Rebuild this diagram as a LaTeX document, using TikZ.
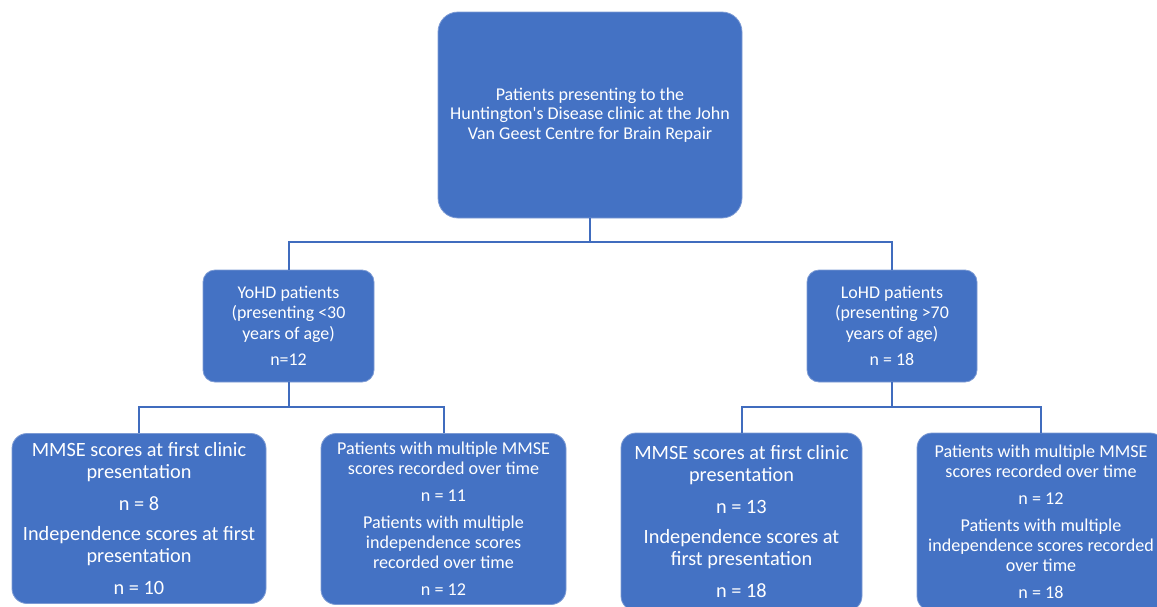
\documentclass[tikz,border=0pt]{standalone}
\usepackage{fontspec}
\setmainfont{Carlito}[Ligatures=TeXOff]
\definecolor{boxblue}{RGB}{68,114,196}
\definecolor{edgeblue}{RGB}{125,155,212}
\definecolor{lineblue}{RGB}{64,108,190}
\tikzset{
  box/.style={rectangle, rounded corners=#1, fill=boxblue, draw=edgeblue, line width=0.8pt,
    text=white, align=center, inner sep=1pt},
  conn/.style={draw=lineblue, line width=2pt}
}
\begin{document}
\begin{tikzpicture}[x=1pt,y=-1pt]
\useasboundingbox (0,0) rectangle (1157,606);
\node[box=20pt, minimum width=304pt, minimum height=206pt,
  font=\fontsize{18}{19.5}\selectfont] (top) at (590,115)
  {Patients presenting to the\\Huntington's Disease clinic at the John\\Van Geest Centre for Brain Repair};
\node[box=12pt, minimum width=171pt, minimum height=112pt,
  font=\fontsize{17.9}{20.5}\selectfont] (yo) at (288.5,326)
  {YoHD patients\\(presenting <30\\years of age)\\[6pt]n=12};
\node[box=12pt, minimum width=170pt, minimum height=112pt,
  font=\fontsize{17.9}{20.5}\selectfont] (lo) at (892,326)
  {LoHD patients\\(presenting >70\\years of age)\\[6pt]n = 18};
\node[box=15pt, minimum width=254pt, minimum height=170pt,
  font=\fontsize{20.3}{22}\selectfont] (b1) at (139,518.5)
  {MMSE scores at first clinic\\presentation\\[10pt]n = 8\\[8pt]Independence scores at first\\presentation\\[10pt]n = 10};
\node[box=15pt, minimum width=245pt, minimum height=171pt,
  font=\fontsize{18.1}{20}\selectfont] (b2) at (443.5,519)
  {Patients with multiple MMSE\\scores recorded over time\\[7pt]n = 11\\[7pt]Patients with multiple\\independence scores\\recorded over time\\[7pt]n = 12};
\node[box=15pt, minimum width=241pt, minimum height=178pt,
  font=\fontsize{20.3}{22}\selectfont] (b3) at (741.5,522)
  {MMSE scores at first clinic\\presentation\\[10pt]n = 13\\[8pt]Independence scores at\\first presentation\\[10pt]n = 18};
\node[box=15pt, minimum width=248pt, minimum height=178pt,
  font=\fontsize{18.1}{20}\selectfont] (b4) at (1041,522)
  {Patients with multiple MMSE\\scores recorded over time\\[7pt]n = 12\\[7pt]Patients with multiple\\independence scores recorded\\over time\\[7pt]n = 18};
\draw[conn] (top.south) -- ++(0,24) -| (yo.north);
\draw[conn] (top.south) -- ++(0,24) -| (lo.north);
\draw[conn] (yo.south) -- ++(0,25) -| (b1.north);
\draw[conn] (yo.south) -- ++(0,25) -| (b2.north);
\draw[conn] (lo.south) -- ++(0,25) -| (b3.north);
\draw[conn] (lo.south) -- ++(0,25) -| (b4.north);
\end{tikzpicture}
\end{document}
